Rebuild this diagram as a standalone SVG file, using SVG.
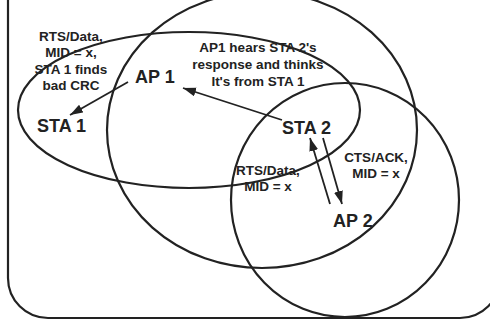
<svg xmlns="http://www.w3.org/2000/svg" width="490" height="322" viewBox="0 0 490 322">
<style>
.rng{fill:none;stroke:#222;stroke-width:2.2}
.frame{fill:none;stroke:#222;stroke-width:2.2}
.node{font-family:"Liberation Sans",Arial,sans-serif;font-weight:bold;font-size:18px;fill:#222}
.lbl{font-family:"Liberation Sans",Arial,sans-serif;font-weight:bold;font-size:13.5px;fill:#222;text-anchor:middle}
.arr{fill:none;stroke:#222;stroke-width:1.8;marker-end:url(#ah)}
</style>
<defs>
<marker id="ah" markerUnits="userSpaceOnUse" markerWidth="14" markerHeight="10" refX="13" refY="4.5" orient="auto">
<path d="M0,0 L13,4.5 L0,9 z" fill="#222"/>
</marker>
</defs>
<rect width="490" height="322" fill="#fff"/>
<path class="frame" d="M8,-5 V278 A40 40 0 0 0 48 318 H460 A40 40 0 0 0 500 278 V-5"/>
<g id="ranges">
<ellipse class="rng" cx="189" cy="110" rx="171" ry="78"/>
<ellipse class="rng" cx="262" cy="130" rx="155" ry="138"/>
<ellipse class="rng" cx="345" cy="200" rx="114" ry="117"/>
</g>
<g id="sta1"><text class="node" x="37" y="132">STA 1</text></g>
<g id="ap1"><text class="node" x="135" y="83">AP 1</text></g>
<g id="sta2"><text class="node" x="282" y="134">STA 2</text></g>
<g id="ap2"><text class="node" x="333" y="227">AP 2</text></g>
<g id="connectors">
<line class="arr" x1="128" y1="82" x2="70" y2="115"/>
<line class="arr" x1="282" y1="120" x2="183" y2="88"/>
<line class="arr" x1="330" y1="204" x2="310" y2="138"/>
<line class="arr" x1="323" y1="138" x2="342" y2="204"/>
</g>
<g id="labels">
<text class="lbl" x="71" y="41">RTS/Data,</text>
<text class="lbl" x="71" y="57">MID = x,</text>
<text class="lbl" x="71" y="74">STA 1 finds</text>
<text class="lbl" x="71" y="90">bad CRC</text>
<text class="lbl" x="258" y="52">AP1 hears STA 2's</text>
<text class="lbl" x="258" y="69">response and thinks</text>
<text class="lbl" x="258" y="86">It's from STA 1</text>
<text class="lbl" x="376" y="162">CTS/ACK,</text>
<text class="lbl" x="376" y="178">MID = x</text>
<text class="lbl" x="268" y="175">RTS/Data,</text>
<text class="lbl" x="268" y="191">MID = x</text>
</g>
</svg>
